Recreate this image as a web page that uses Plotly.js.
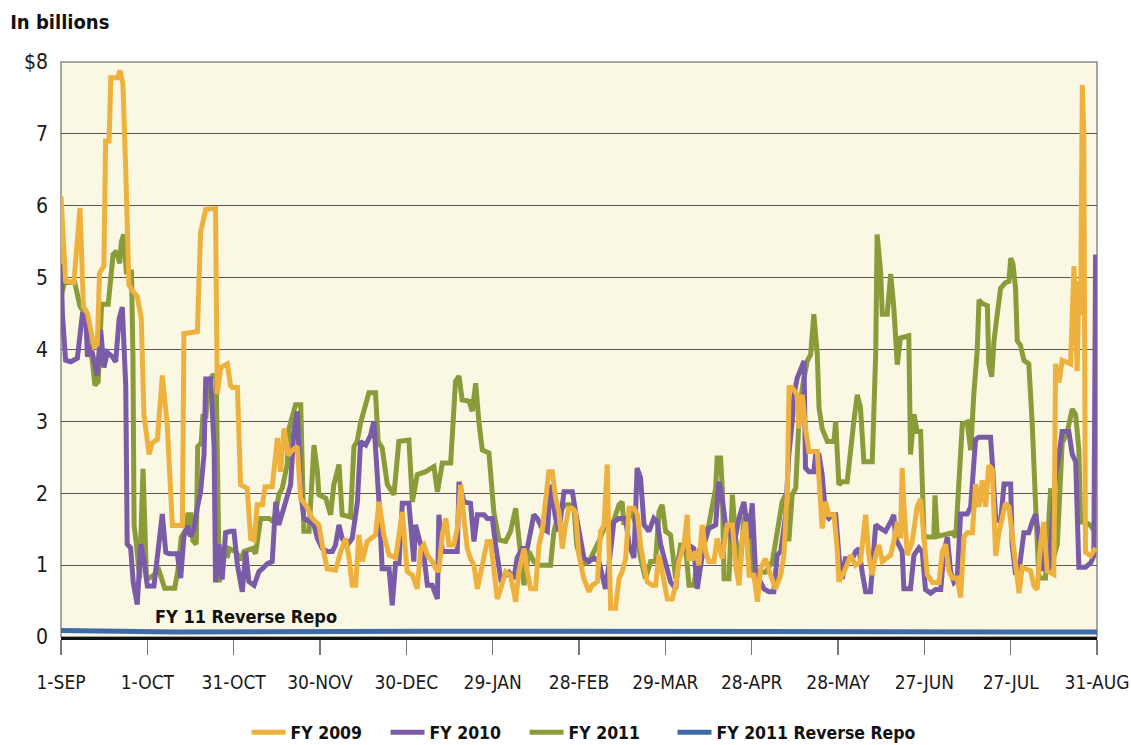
<!DOCTYPE html>
<html>
<head>
<meta charset="utf-8">
<script src="https://cdn.plot.ly/plotly-3.0.1.min.js"></script>
<style>
  html, body { margin: 0; padding: 0; background: #ffffff; }
  #chart { width: 1131px; height: 745px; }
</style>
</head>
<body>
<div id="chart"></div>
<script>
// ---- Tick labels (x axis: day offsets from 1-SEP) ----
const xTickDays = [0, 30, 60, 90, 120, 150, 180, 210, 240, 270, 300, 330, 360];
const xTickLabels = ["1-SEP", "1-OCT", "31-OCT", "30-NOV", "30-DEC", "29-JAN", "28-FEB",
                     "29-MAR", "28-APR", "28-MAY", "27-JUN", "27-JUL", "31-AUG"];
const yTickVals = [0, 1, 2, 3, 4, 5, 6, 7, 8];
const yTickLabels = ["0", "1", "2", "3", "4", "5", "6", "7", "$8"];

// ---- FY 2009 ----
const fy2009Days = [0,1.6,4.5,6.6,7.8,9.2,11.5,12.6,13.4,14.9,15.5,16.7,17.3,19.6,20.5,21.5,22.5,23.6,24.8,26.5,27.9,28.8,30.6,31.7,33.5,35.2,36.9,38.1,38.7,42.2,42.7,47.4,48.5,50.3,53.7,54.3,55.5,57.8,58.9,
  59.5,61.3,62.4,64.7,65.9,67.1,68.2,70,70.9,73.4,75.2,76.3,77.5,79,80.4,82.1,83.3,85.6,87.3,89.6,90.8,92.5,95.4,97.2,98.9,100.1,101.2,102.4,103.5,104.7,106.4,109.3,110.5,112.2,114,116.3,118.6,
  120.3,122.1,123.8,125,126.1,127.3,129,130.2,131.3,132.5,133.7,134.8,136.5,137.7,138.9,140,141.2,142.3,143.5,144.7,145.8,147,148.1,149.3,150.4,151.6,152.8,154.5,156.2,158,159.1,160.9,162,163.2,164.9,166.1,167.2,168.4,169.5,170.7,171.9,173,174.2,175.3,176.5,177.7,
  178.8,180,181.7,183.5,184.6,186.4,187.5,188.7,189.8,190.4,191,192.7,193.9,195,196.2,197.4,199.1,200.3,201.4,202.6,203.7,205.5,206.6,207.8,209.5,210.7,212.4,213.6,214.7,216.5,217.6,218.2,219.4,220.5,221.7,222.8,224,225.1,226.9,228,229.8,231.5,233.3,234.4,235.6,236.7,
  237.9,239.1,240.8,242,243.1,244.8,246.6,248.3,250.1,251.2,252.4,253,254.1,255.8,256.4,257.6,258.7,259.9,262.8,263.4,264.5,265.7,266.8,268.6,269.7,270.3,271.5,272.6,274.4,276.1,277.8,279.6,280.7,281.9,283.1,284.2,285.4,288.3,289.4,290.6,291.7,292.3,292.9,294.1,295.8,
  297.5,298.7,299.9,301,302.8,305.1,306.2,307.4,308.5,309.7,311.4,312.6,313.8,314.9,316.7,317.8,319,320.1,321.3,322.4,323.6,324.8,325.9,327.1,328.2,329.4,330.5,331.7,332.9,334,336.9,338.1,339.2,340.4,341.5,342.7,345,345.6,346.8,347.9,350.8,352,353.1,353.7,354.3,354.9,355.4,356,357.8,359.5];
const fy2009Values = [6.13,4.95,4.93,5.97,4.6,4.5,4.04,4.07,5.06,5.16,6.9,6.9,7.78,7.78,7.88,7.7,6.5,4.9,4.82,4.74,4.43,3.1,2.54,2.7,2.75,3.64,2.96,2.07,1.55,1.55,4.22,4.25,5.63,5.95,5.96,3.38,3.75,3.8,3.5,
  3.47,3.47,2.12,2.07,1.37,1.35,1.84,1.84,2.09,2.09,2.77,2.3,2.9,2.53,2.6,2.65,1.93,1.8,1.65,1.56,1.28,0.95,0.93,1.19,1.37,1.1,0.72,0.72,1.42,1.05,1.33,1.42,1.88,1.42,1.14,1.1,1.74,
  0.91,0.86,0.67,1.23,1.28,1.14,1.05,0.95,0.91,1.42,1.65,1.28,1.28,1.51,2.12,1.65,1.23,1.09,1.0,0.67,0.86,1.09,1.33,1.33,1.0,0.53,0.67,0.91,0.86,0.49,0.91,1.23,0.91,0.67,0.67,1.28,1.47,1.93,2.3,2.3,1.93,1.74,1.23,1.56,1.79,1.79,
  1.74,1.14,0.81,0.63,0.72,0.77,1.47,1.56,2.4,1.28,0.4,0.4,0.81,0.91,1.09,1.79,1.79,1.7,1.28,1.0,0.77,0.72,0.72,1.14,0.72,0.53,0.53,0.72,1.05,1.28,1.7,1.09,1.09,1.19,1.0,1.56,1.19,1.05,1.05,1.37,1.09,1.56,1.56,1.0,0.72,1.37,
  1.6,0.86,0.86,0.49,0.95,1.09,0.86,0.67,0.86,1.14,2.07,3.47,3.47,3.37,2.9,3.37,2.9,2.58,2.58,2.26,1.51,1.88,1.7,1.7,1.23,0.77,0.86,0.95,1.14,1.0,1.05,1.7,1.14,0.86,1.14,1.28,1.05,1.14,1.33,1.6,1.37,2.35,1.84,1.14,1.33,
  1.81,1.92,1.29,0.87,0.76,0.76,1.18,1.29,0.92,0.82,0.82,0.55,1.39,1.45,1.45,2.13,1.81,2.18,1.81,2.39,2.33,1.13,1.45,1.65,1.86,1.81,1.39,0.92,0.61,0.97,0.92,0.71,0.66,1.29,1.6,0.92,0.87,3.8,3.54,3.85,3.8,5.16,3.7,4.95,4.48,7.68,7.05,1.18,1.13,1.24];

// ---- FY 2010 ----
const fy2010Days = [0,0.5,1.6,3.4,5.7,7.4,8.6,9.2,10.3,11.5,12.6,13.8,14.9,16.1,17.8,19,20.2,21.3,21.9,22.5,23,24.2,25.1,26.5,27.7,28.8,30,32.3,34,35.2,36.4,37.5,40.4,41.6,42.7,43.9,45,46.2,47.4,48.5,49.7,50.3,52,53.2,53.7,54.9,56,57.2,58.9,
  60.1,61.3,63,64.2,65.3,67.1,68.8,70,71.7,73.4,74.6,75.7,77.5,78.6,79.8,80.9,82.1,83.3,84.4,86.7,87.9,89.1,90.8,92.5,94.3,95.4,96.6,97.7,99.5,101.2,103,104.1,105.9,107.6,108.7,110.5,111.6,114,115.1,116.3,117.4,118.6,120.9,
  122.6,123.2,124.4,126.1,127.3,129,130.8,131.3,132.5,137.7,138.3,140,142.3,143.5,144.7,147,148.1,149.9,151,152.8,154.5,155.7,157.4,158.5,160.3,162,163.2,164.3,165.5,167.2,169,170.1,171.9,173,174.8,177.7,178.8,
  180,181.7,183.5,185.2,186.9,188.1,189.2,190.4,192.1,193.9,196.2,197.4,199.1,200.2,201.4,202.6,204.3,206,207.2,208.4,210.1,211.8,213.6,214.7,216.5,218.2,219.9,221.1,222.3,223.4,225.1,227.5,228.6,229.8,230.9,232.1,233.8,235.6,237.3,239,
  240.2,241.4,242.5,244.3,246,247.7,248.9,250.1,251.8,252.9,254.1,254.7,255.8,257,258.2,258.7,259.9,261.6,262.2,263.4,264.5,265.7,266.8,268,269.2,270.3,271.5,272.6,275,276.1,277.3,278.4,279.6,281.3,283.1,284.8,286.5,288.3,289.4,290,291.2,292.3,292.9,295.2,296.4,
  298.1,299.3,300.4,302.2,303.9,305.7,306.8,308,309.1,310.3,311.4,312.6,314.9,316.1,317.8,319,323,323.6,324.8,326.5,327.7,330,330.5,331.7,332.9,334.6,336.3,337.5,338.7,339.8,341,342.1,343.3,344.4,345.6,346.8,347.9,350.2,351.4,352.6,353.1,353.7,356,357.8,358.9,359.5];
const fy2010Values = [5.19,4.48,3.85,3.83,3.88,4.48,4.46,3.9,4.06,3.85,3.64,4.27,3.75,3.96,3.9,3.83,4.43,4.59,4.06,3.49,1.29,1.24,0.76,0.45,1.29,1.08,0.71,0.71,1.29,1.71,1.18,1.16,1.16,0.82,1.39,1.55,1.4,1.5,1.81,2.02,2.54,3.59,3.59,2.65,0.76,1.29,0.8,1.45,1.47,
  1.47,1.0,0.63,1.19,0.77,0.72,0.91,0.95,1.02,1.05,1.88,1.56,1.79,1.93,2.12,2.86,3.14,2.02,1.65,1.6,1.56,1.37,1.23,1.19,1.19,1.28,1.56,1.37,1.28,1.37,1.88,2.72,2.67,2.81,3.0,1.88,0.95,0.95,0.44,1.05,1.0,1.86,1.86,
  1.05,1.56,1.37,1.14,0.72,0.72,0.53,1.7,1.19,1.19,2.16,1.88,1.86,1.33,1.7,1.7,1.65,1.65,1.28,0.81,0.86,0.9,0.81,1.1,1.23,1.23,1.47,1.7,1.65,1.51,1.47,2.12,1.65,1.47,2.02,2.02,1.74,
  1.51,1.1,1.05,1.1,1.05,0.81,0.67,1.0,1.6,1.65,1.65,1.28,1.1,2.35,2.21,1.56,1.47,1.65,1.6,1.28,1.0,0.77,0.67,1.1,1.23,1.28,1.23,0.67,1.0,1.28,1.51,1.56,2.16,1.93,1.56,1.5,1.28,1.65,1.88,1.37,
  1.86,0.86,0.81,0.67,0.63,0.63,1.14,1.19,1.7,2.53,3.0,3.37,3.6,3.74,3.84,2.35,2.3,2.3,2.53,2.53,2.26,1.7,1.65,1.7,1.7,1.14,0.81,1.09,1.09,1.19,1.23,0.9,0.63,0.63,1.56,1.51,1.47,1.6,1.7,1.37,1.28,1.19,0.67,0.67,1.14,
  1.24,1.18,0.66,0.61,0.66,0.66,1.18,1.39,0.92,0.76,0.8,1.71,1.71,1.81,2.75,2.78,2.78,2.44,1.65,1.6,2.13,2.13,1.29,0.87,0.92,1.45,1.45,1.6,1.71,1.39,0.92,1.29,0.92,1.55,2.23,2.54,2.86,2.86,2.54,2.44,1.81,0.97,0.97,1.03,1.13,5.32];

// ---- FY 2011 ----
const fy2011Days = [0,1.4,4.8,6.6,8.3,9.5,10.6,11.8,12.9,14.1,16.4,18.1,19.3,20.4,21,21.8,22.7,24.5,25,25.4,26.2,27.3,28.5,29.7,30.8,32.5,33.7,35.4,36,39.5,40.6,41.8,43.5,44.1,45.2,45.8,47,47.5,48.7,49.3,50.4,51,52.7,53.9,54.5,55,55.6,57.9,
  58.4,60.7,62.4,63.6,66.5,67.6,69.4,72.3,74,75.7,76.9,78.6,79.2,80.4,81.5,83.3,83.8,84.4,86.2,87.3,87.9,89.1,89.6,92,93.7,94.8,96.6,97.7,100.6,101.8,102.9,104.1,107,109.3,110.2,111.6,113.4,115.7,117.4,120.9,
  122.1,123.8,126.7,129.6,130.8,132.5,135.4,137.1,138.3,139.4,141.8,142.9,144.1,145.2,146.4,148.7,150.4,152.2,154.5,156.2,158,159.1,160.9,162.6,164.3,166.1,170.1,171.3,173,175.3,178.2,
  179.2,181.1,183.5,185.2,186.9,189.2,191.6,193.9,195,195.6,196.8,198.5,199.7,201.4,203.1,204.9,206.6,207.8,208.9,210.1,211.8,213.6,215.3,217,218.2,219.9,221.7,223.4,225.1,227.5,228,229.2,229.8,230.4,232.1,233.3,234.4,236.1,237.3,
  239.1,240.8,242.5,244.8,247.2,249.5,250.6,251.8,252.9,254.1,255.3,256.4,257.6,259.3,260.5,261.6,262.8,263.4,264.5,266.3,268.6,269.2,270.3,271.5,273.2,275.5,276.7,277.8,279,281.9,283.1,283.6,284.8,285.4,287.1,288.3,289.4,290.6,291.7,294.6,
  295.2,296.4,297.5,298.7,299.9,303.3,303.7,304.5,309.7,310.9,312,313.2,314.9,316.1,317.2,318.4,319,320.1,321.9,322.4,323.4,324.2,325.3,326.5,328.2,329.4,330,330.8,331.7,332.3,333.4,334.6,336.3,337.5,338.7,339.8,342.1,342.7,343.9,344.4,346.2,347.9,349.7,351.4,352.6,353.7,354.3,356,357.8,359.5];
const fy2011Values = [4.74,4.95,4.93,4.6,4.5,4.43,3.95,3.5,3.55,4.63,4.63,5.32,5.37,5.2,5.5,5.6,5.08,5.08,3.9,1.55,1.29,0.82,2.34,0.82,0.82,0.87,0.97,0.76,0.68,0.68,0.92,1.39,1.5,1.7,1.7,1.34,1.29,2.65,2.7,3.07,3.07,3.54,3.64,3.64,2.07,0.76,1.13,1.13,
  1.23,1.19,1.07,1.19,1.23,1.16,1.65,1.65,1.6,1.98,2.07,2.4,2.9,3.09,3.23,3.23,2.3,1.47,1.47,2.3,2.67,2.3,1.98,1.93,1.7,2.12,2.4,1.7,1.67,2.65,2.72,2.98,3.4,3.4,2.72,2.63,2.12,1.98,2.72,2.74,
  1.88,2.26,2.3,2.37,2.02,2.42,2.42,3.56,3.63,3.3,3.28,3.14,3.53,3.0,2.6,2.56,1.74,1.35,1.33,1.47,1.79,1.37,0.72,1.19,1.05,1.0,1.0,1.47,1.74,1.84,1.84,
  1.28,1.0,1.05,1.19,1.33,1.56,1.56,1.84,1.88,1.56,1.65,1.74,1.56,1.1,0.81,1.05,1.05,1.74,1.84,1.47,1.42,0.81,1.28,1.28,0.72,0.72,1.19,1.37,1.56,2.07,2.49,2.49,2.07,0.81,0.81,1.98,1.37,1.0,1.65,
  1.7,0.86,0.9,0.9,1.05,1.6,1.88,1.98,1.33,1.98,2.07,3.0,3.47,3.84,3.93,4.49,3.93,3.19,2.9,2.72,2.72,3.0,2.12,2.16,2.16,3.0,3.37,3.19,2.44,2.44,3.93,5.6,5.09,4.49,4.49,5.05,4.58,3.79,4.16,4.19,
  2.54,3.1,2.86,2.86,1.39,1.39,1.97,1.4,1.45,1.39,2.31,2.96,2.99,2.6,3.38,4.0,4.69,4.64,4.61,3.8,3.62,4.12,4.48,4.85,4.93,4.95,5.27,5.19,4.85,4.12,4.06,3.85,3.8,2.96,1.81,0.82,0.82,1.29,2.07,1.03,1.29,2.7,2.86,3.17,3.09,2.6,1.6,1.6,1.55,1.45];

// ---- FY 2011 Reverse Repo ----
const repoDays = [0, 40, 130, 250, 310, 360];
const repoValues = [0.09, 0.07, 0.08, 0.08, 0.07, 0.07];

const FONT = '"DejaVu Sans Condensed", "Liberation Sans Narrow", "Arial Narrow", sans-serif';
const C09 = '#efb13e', C10 = '#7a5ba7', C11 = '#8a9b3a', CRR = '#3e6ba8';

const traces = [
  { x: fy2011Days, y: fy2011Values, name: 'FY 2011', mode: 'lines',
    line: { color: C11, width: 5 }, legendrank: 3, legend: 'legend' },
  { x: fy2010Days, y: fy2010Values, name: 'FY 2010', mode: 'lines',
    line: { color: C10, width: 5 }, legendrank: 2, legend: 'legend' },
  { x: fy2009Days, y: fy2009Values, name: 'FY 2009', mode: 'lines',
    line: { color: C09, width: 5 }, legendrank: 1, legend: 'legend' },
  { x: repoDays, y: repoValues, name: 'FY 2011 Reverse Repo', mode: 'lines',
    line: { color: CRR, width: 5 }, legendrank: 4, legend: 'legend2' }
];

const legendFont = { family: FONT, size: 17.5, weight: 'bold', color: '#111' };

const layout = {
  width: 1131, height: 745,
  paper_bgcolor: '#ffffff',
  plot_bgcolor: '#faf8e3',
  margin: { l: 61, r: 34, t: 62, b: 108, autoexpand: false },
  font: { family: FONT, color: '#1a1a1a', size: 19 },
  title: {
    text: 'In billions', xref: 'container', yref: 'container',
    x: 0.009, xanchor: 'left', y: 0.97, yanchor: 'middle',
    font: { family: FONT, size: 20, weight: 'bold', color: '#111' }
  },
  showlegend: true,
  legend: {
    orientation: 'h', xref: 'container', x: 0.218, xanchor: 'left',
    yref: 'container', y: 0.017, yanchor: 'middle',
    font: legendFont,
    itemwidth: 34, entrywidth: 90, entrywidthmode: 'pixels',
    traceorder: 'normal', bgcolor: 'rgba(0,0,0,0)'
  },
  legend2: {
    orientation: 'h', xref: 'container', x: 0.5946, xanchor: 'left',
    yref: 'container', y: 0.017, yanchor: 'middle',
    font: legendFont,
    itemwidth: 34, bgcolor: 'rgba(0,0,0,0)'
  },
  xaxis: {
    range: [0, 360], tickmode: 'array', tickvals: xTickDays, ticktext: xTickLabels,
    showgrid: false, zeroline: false,
    showline: true, linecolor: '#111', linewidth: 2.5,
    ticks: 'outside', ticklen: 15, tickwidth: 1.5, tickcolor: '#777',
    ticklabelstandoff: 12, ticklabeloverflow: 'allow',
    tickfont: { family: FONT, size: 19, color: '#1a1a1a' },
    fixedrange: true
  },
  yaxis: {
    range: [0, 8], tickmode: 'array', tickvals: yTickVals, ticktext: yTickLabels,
    showgrid: true, gridcolor: '#5e5656', gridwidth: 1.2,
    zeroline: false, showline: false, ticks: '',
    ticklabelstandoff: 12,
    tickfont: { family: FONT, size: 21, color: '#1a1a1a' },
    fixedrange: true
  },
  shapes: [
    { type: 'rect', xref: 'paper', yref: 'paper', x0: 0, x1: 1, y0: 0, y1: 1,
      line: { color: '#8a8a8a', width: 1.5 }, fillcolor: 'rgba(0,0,0,0)', layer: 'below' }
  ],
  annotations: [
    { text: 'FY 11 Reverse Repo', x: 32, y: 0.28, xref: 'x', yref: 'y',
      xanchor: 'left', yanchor: 'middle', showarrow: false,
      font: { family: FONT, size: 18, weight: 'bold', color: '#111' } }
  ]
};

Plotly.newPlot('chart', traces, layout, { displayModeBar: false, staticPlot: true });
</script>
</body>
</html>
